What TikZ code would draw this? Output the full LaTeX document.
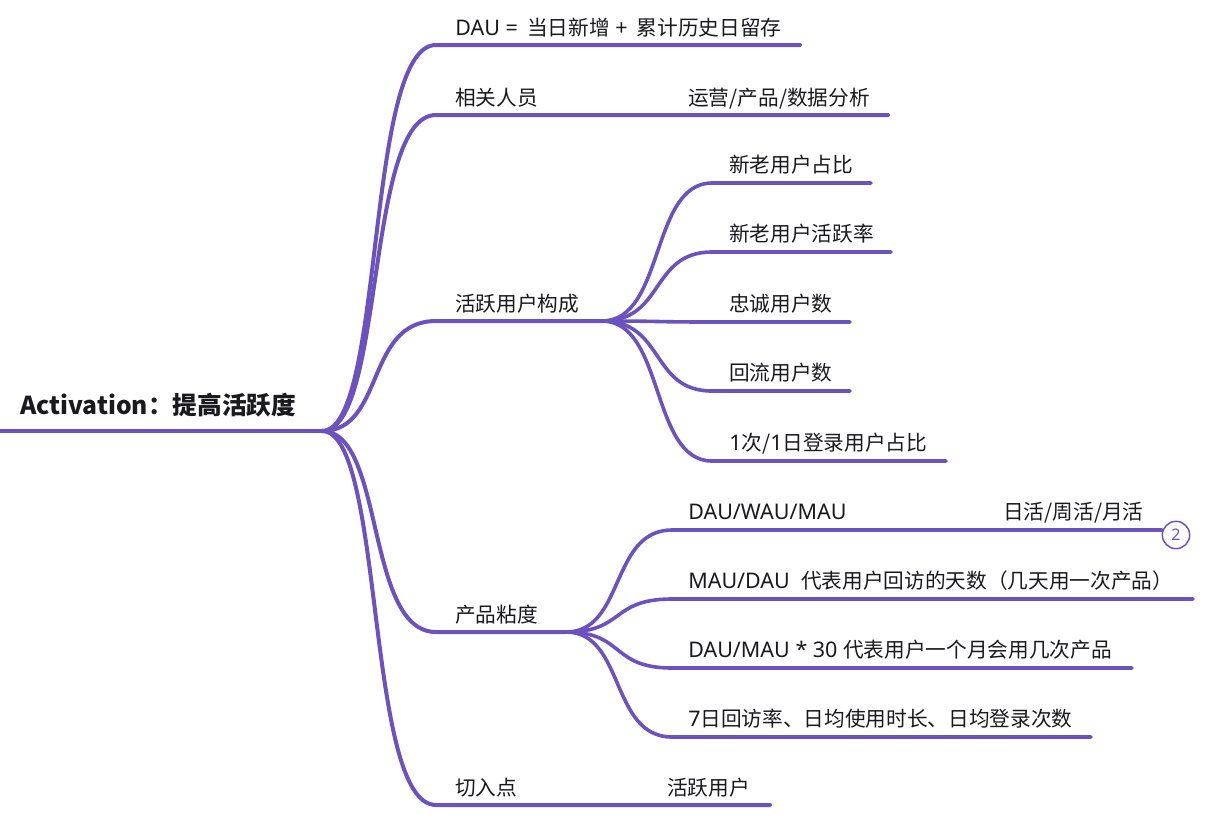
\documentclass[tikz,border=0pt]{standalone}
\usepackage{fontspec}
\setmainfont{Noto Sans CJK SC}
\newfontfamily\lat{Noto Sans}[Scale=1.04]
\definecolor{branch}{RGB}{108,82,190}
\definecolor{txt}{RGB}{25,25,30}
\begin{document}
\begin{tikzpicture}[x=0.75pt,y=-0.75pt,
  br/.style={draw=branch, line width=3pt, line cap=round},
  sub/.style={draw=branch, line width=2.7pt, line cap=round},
  lbl/.style={anchor=base west, inner sep=0pt, text=txt, font=\fontsize{15.5}{18}\selectfont},
  rootlbl/.style={anchor=base west, inner sep=0pt, text=txt, font=\bfseries\fontsize{18.5}{22}\selectfont},
  badge/.style={circle, draw=branch, line width=1.1pt, minimum size=20.5pt, inner sep=0pt, text=branch, font=\lat\fontsize{11.5}{13}\selectfont, fill=white}]
\useasboundingbox (0,0) rectangle (1206,826);
% root
\coordinate (r0) at (0,431);
\coordinate (r) at (322,431);
\draw[br, line width=3.2pt, line cap=butt] (r0) -- (r);
\node[rootlbl] (rootT) at (20,414) {Activation：提高活跃度};
% level 1
\coordinate (a1s) at (436,45);  \coordinate (a1e) at (800,45);
\coordinate (a2s) at (436,115); \coordinate (a2e) at (888,115);
\coordinate (a3s) at (436,321); \coordinate (a3e) at (602,321);
\coordinate (a4s) at (436,632); \coordinate (a4e) at (566,632);
\coordinate (a5s) at (436,805); \coordinate (a5e) at (770,805);
\foreach \s/\e/\y in {a1s/a1e/45, a2s/a2e/115, a3s/a3e/321, a4s/a4e/632, a5s/a5e/805}
  \draw[br] (r) .. controls (385,431) and (365,\y) .. (\s) -- (\e);
\node[lbl] (t1) at (455,35) {{\lat DAU =\, }当日新增{\lat\ +\, }累计历史日留存};
\node[lbl] (t2) at (455,105) {相关人员};
\node[lbl] (t2b) at (688,105) {运营/产品/数据分析};
\node[lbl] (t3) at (455,311) {活跃用户构成};
\node[lbl] (t4) at (455,622) {产品粘度};
\node[lbl] (t5) at (455,795) {切入点};
\node[lbl] (t5b) at (667,795) {活跃用户};
% level 2 under 活跃用户构成
\coordinate (b1s) at (712,183); \coordinate (b1e) at (871,183);
\coordinate (b2s) at (712,252); \coordinate (b2e) at (891,252);
\coordinate (b3s) at (712,322); \coordinate (b3e) at (850,322);
\coordinate (b4s) at (712,391); \coordinate (b4e) at (850,391);
\coordinate (b5s) at (712,461); \coordinate (b5e) at (946,461);
\foreach \s/\e/\y in {b1s/b1e/183, b2s/b2e/252, b3s/b3e/322, b4s/b4e/391, b5s/b5e/461}
  \draw[sub] (a3e) .. controls (665,321) and (650,\y) .. (\s) -- (\e);
\node[lbl] (c1) at (729,172) {新老用户占比};
\node[lbl] (c2) at (729,241) {新老用户活跃率};
\node[lbl] (c3) at (729,311) {忠诚用户数};
\node[lbl] (c4) at (729,380) {回流用户数};
\node[lbl] (c5) at (729,450) {{\lat 1}次/{\lat 1}日登录用户占比};
% level 2 under 产品粘度
\coordinate (d1s) at (672,530); \coordinate (d1e) at (1162,530);
\coordinate (d2s) at (672,599); \coordinate (d2e) at (1193,599);
\coordinate (d3s) at (672,668); \coordinate (d3e) at (1132,668);
\coordinate (d4s) at (672,737); \coordinate (d4e) at (1091,737);
\foreach \s/\e/\y in {d1s/d1e/530, d2s/d2e/599, d3s/d3e/668, d4s/d4e/737}
  \draw[sub] (a4e) .. controls (625,632) and (610,\y) .. (\s) -- (\e);
\node[badge] (n2) at (1176,535) {2};
\node[lbl] (e1) at (688,519) {\lat DAU/WAU/MAU};
\node[lbl] (e1b) at (1003,519) {日活/周活/月活};
\node[lbl] (e2) at (688,588) {{\lat MAU/DAU\ \ }代表用户回访的天数（几天用一次产品）};
\node[lbl] (e3) at (688,657) {{\lat DAU/MAU * 30 }代表用户一个月会用几次产品};
\node[lbl] (e4) at (688,726) {{\lat 7}日回访率、日均使用时长、日均登录次数};
\end{tikzpicture}
\end{document}
